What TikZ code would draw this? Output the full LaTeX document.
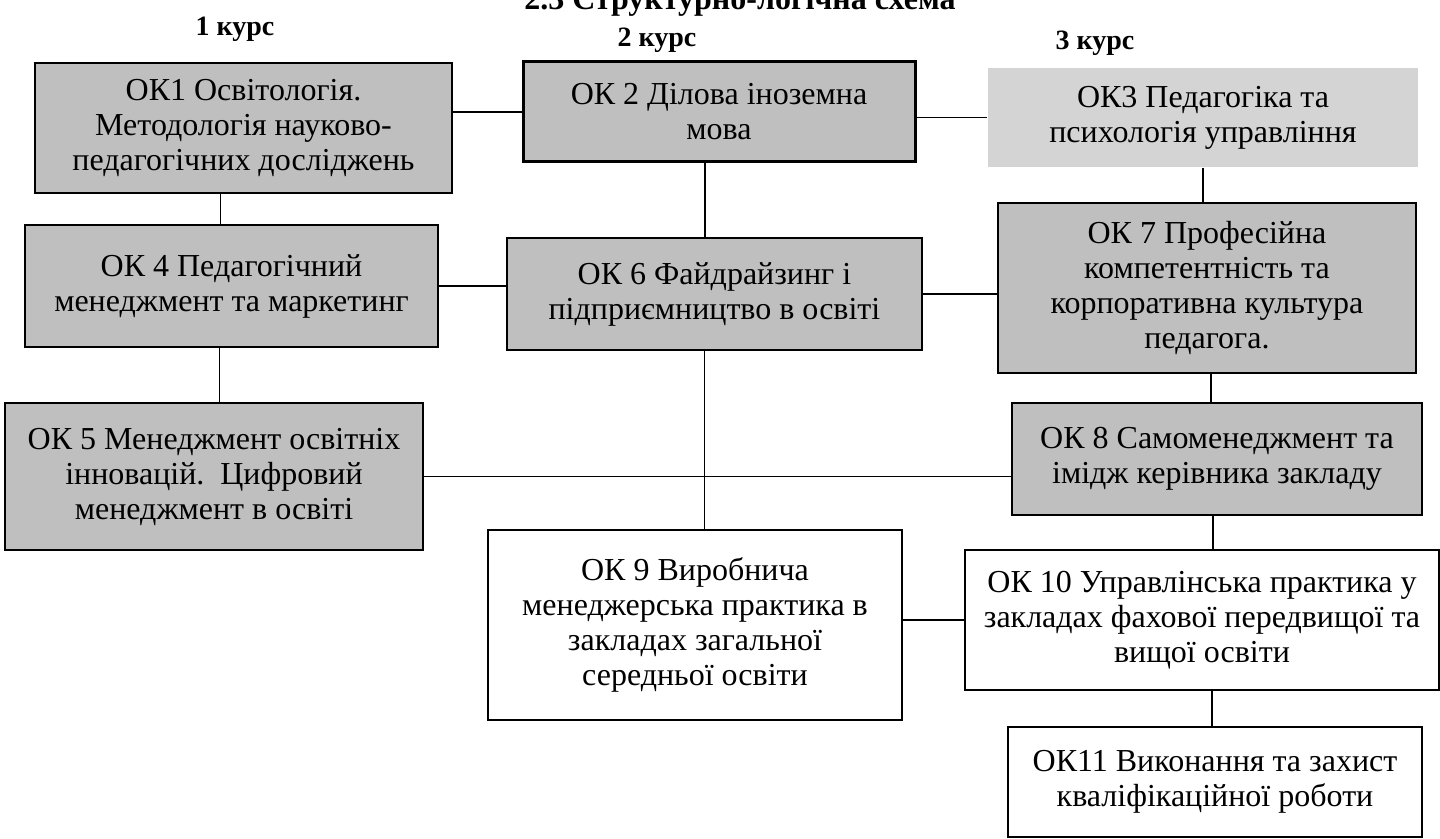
\documentclass[tikz,border=0pt]{standalone}
\usepackage{fontspec}
\setmainfont{Liberation Serif}

\tikzset{every picture/.style={line width=0.75pt}}
\tikzset{
	okbox/.style={draw=black, fill=black!25, align=center, inner sep=0.75pt, font=\fontsize{16}{17.5}\selectfont},
	okwhite/.style={okbox, fill=white},
	course/.style={inner sep=0.75pt, font=\fontsize{14}{16}\selectfont\bfseries},
	link/.style={line width=0.6pt}}

\begin{document}
\begin{tikzpicture}[x=0.5pt,y=0.5pt,yscale=-1,xscale=1]
\useasboundingbox (0,0) rectangle (1440,839);

% Text Node
\node (ttl) [course, anchor=base, font=\fontsize{16}{18}\selectfont\bfseries] at (740,10) {2.3 Структурно-логічна схема};
% Text Node
\node (c1) [course, anchor=base] at (235,36) {1 курс};
% Text Node
\node (c2) [course, anchor=base] at (657,47) {2 курс};
% Text Node
\node (c3) [course, anchor=base] at (1095,50) {3 курс};

%Shape: Rectangle
\node (ok1) [okbox, minimum width=208.5pt, minimum height=65pt] at (243.5,128) {ОК1 Освітологія.\\ Методологія науково-\\ педагогічних досліджень};
%Shape: Rectangle
\node (ok2) [okbox, line width=1.5pt, minimum width=196pt, minimum height=50pt] at (719,112) {ОК 2 Ділова іноземна\\ мова};
%Shape: Rectangle
\node (ok3) [okbox, draw=none, fill=black!17, minimum width=215pt, minimum height=49.5pt] at (1203,117.5) {ОК3 Педагогіка та\\ психологія управління};
%Shape: Rectangle
\node (ok4) [okbox, minimum width=206.5pt, minimum height=61pt] at (231.5,286) {ОК 4 Педагогічний\\ менеджмент та маркетинг};
%Shape: Rectangle
\node (ok6) [okbox, minimum width=207.5pt, minimum height=56pt] at (714.5,294) {ОК 6 Файдрайзинг і\\ підприємництво в освіті};
%Shape: Rectangle
\node (ok7) [okbox, minimum width=209pt, minimum height=85pt] at (1207,288) {ОК 7 Професійна\\ компетентність та\\ корпоративна культура\\ педагога.};
%Shape: Rectangle
\node (ok5) [okbox, minimum width=209pt, minimum height=73.5pt] at (214,476.5) {ОК 5 Менеджмент освітніх\\ інновацій.\ \ Цифровий\\ менеджмент в освіті};
%Shape: Rectangle
\node (ok8) [okbox, minimum width=205pt, minimum height=56pt] at (1217,459) {ОК 8 Самоменеджмент та\\ імідж керівника закладу};
%Shape: Rectangle
\node (ok9) [okwhite, minimum width=207pt, minimum height=95pt] at (695,625) {ОК 9 Виробнича\\ менеджерська практика в\\ закладах загальної\\ середньої освіти};
%Shape: Rectangle
\node (ok10) [okwhite, minimum width=237pt, minimum height=70pt] at (1202,620) {ОК 10 Управлінська практика у\\ закладах фахової передвищої та\\ вищої освіти};
%Shape: Rectangle
\node (ok11) [okwhite, minimum width=207pt, minimum height=55pt] at (1215,782) {ОК11 Виконання та захист\\ кваліфікаційної роботи};

%Straight Lines
\draw [link] (ok1.east |- ok2.west) -- (ok2.west) ;
\draw [link] (ok2.east |- ok3.west) -- (ok3.west) ;
\draw [link] ([xshift=-5.5pt]ok4.north) -- ([xshift=-5.5pt]ok4.north |- ok1.south) ;
\draw [link] ([xshift=-7pt]ok2.south) -- ([xshift=-7pt]ok2.south |- ok6.north) ;
\draw [link] (ok3.south) -- (ok3.south |- ok7.north) ;
%Straight Lines
\draw [link] (ok4.east) -- (ok4.east -| ok6.west) ;
\draw [link] (ok6.east) -- (ok6.east -| ok7.west) ;
\draw [link] ([xshift=-6pt]ok4.south) -- ([xshift=-6pt]ok4.south |- ok5.north) ;
\draw [link] ([xshift=-5pt]ok6.south) -- ([xshift=-5pt]ok6.south |- ok9.north) ;
\draw [link] ([xshift=-3pt]ok8.north) -- ([xshift=-3pt]ok8.north |- ok7.south) ;
%Straight Lines
\draw [link] (ok5.east) -- (ok5.east -| ok8.west) ;
\draw [link] ([xshift=-2pt]ok8.south) -- ([xshift=-2pt]ok8.south |- ok10.north) ;
\draw [link] (ok10.west) -- (ok10.west -| ok9.east) ;
\draw [link] ([xshift=5pt]ok10.south) -- ([xshift=5pt]ok10.south |- ok11.north) ;

\end{tikzpicture}
\end{document}
